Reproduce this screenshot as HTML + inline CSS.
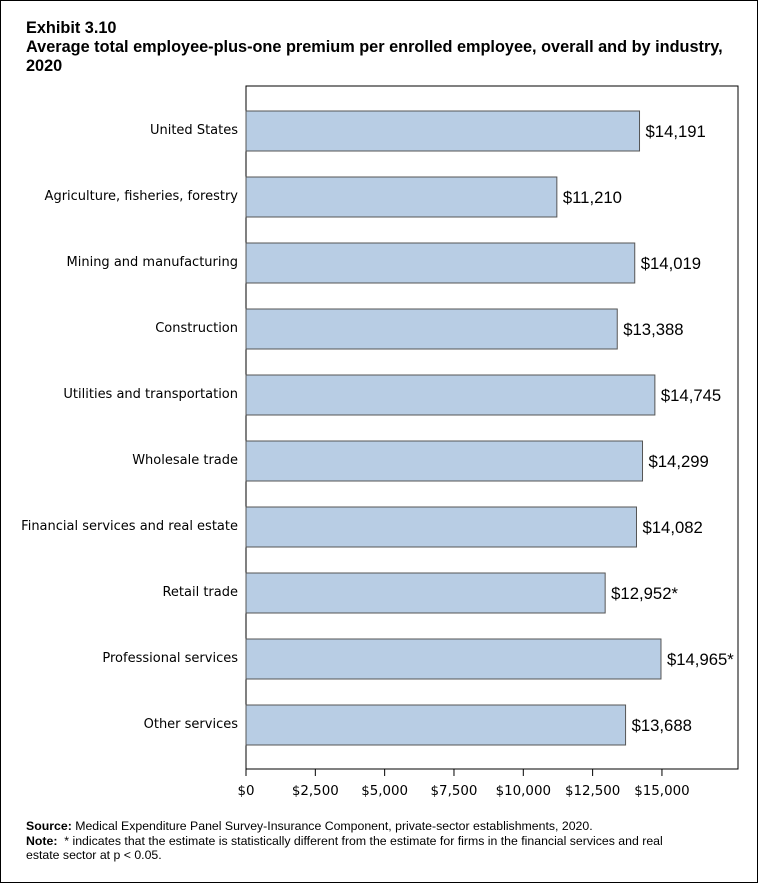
<!DOCTYPE html>
<html><head><meta charset="utf-8"><style>
body{margin:0;background:#fff;}
#wrap{position:relative;width:756px;height:881px;border:1px solid #000;background:#fff;font-family:"Liberation Sans",sans-serif;overflow:hidden;}
.t{position:absolute;left:25px;font-weight:bold;font-size:16.3px;color:#000;}
.f{position:absolute;left:25px;font-size:12.3px;color:#000;line-height:14px;}
</style></head><body>
<div id="wrap">
<div class="t" style="top:18px">Exhibit 3.10</div>
<div class="t" style="top:37px;line-height:19px;width:700px">Average total employee-plus-one premium per enrolled employee, overall and by industry, 2020</div>
<svg id="chart" width="756" height="881" style="position:absolute;left:0;top:0"></svg>
<div class="f" style="top:818px"><b>Source:</b> Medical Expenditure Panel Survey-Insurance Component, private-sector establishments, 2020.</div>
<div class="f" style="top:833px;width:670px"><b>Note:</b>&nbsp; * indicates that the estimate is statistically different from the estimate for firms in the financial services and real estate sector at p &lt; 0.05.</div>
</div>
<script>
const categories=["United States","Agriculture, fisheries, forestry","Mining and manufacturing","Construction","Utilities and transportation","Wholesale trade","Financial services and real estate","Retail trade","Professional services","Other services"];
const values=[14191,11210,14019,13388,14745,14299,14082,12952,14965,13688];
const valueLabels=["$14,191","$11,210","$14,019","$13,388","$14,745","$14,299","$14,082","$12,952*","$14,965*","$13,688"];
const ticks=[0,2500,5000,7500,10000,12500,15000];
const tickLabels=["$0","$2,500","$5,000","$7,500","$10,000","$12,500","$15,000"];
const NS="http://www.w3.org/2000/svg";
const svg=document.getElementById('chart');
const L=245,R=737,T=85,B=768;
const x=v=>L+v*0.02773;
const y=i=>130+i*66;
function mk(tag,at){const e=document.createElementNS(NS,tag);for(const k in at)e.setAttribute(k,at[k]);svg.appendChild(e);return e;}
const frame=mk('rect',{x:L,y:T,width:R-L,height:B-T,fill:'none',stroke:'#000','stroke-width':1});


categories.forEach((c,i)=>{
 const r=mk('rect',{x:L,y:y(i)-20,width:x(values[i])-L,height:40,fill:'#b8cde4',stroke:'#555','stroke-width':1});
 
 
 const lt=mk('text',{x:237,y:y(i)+3,'text-anchor':'end','font-size':13,'font-family':'DejaVu Sans, Liberation Sans, sans-serif'});
 lt.textContent=c;
 
 
 const vt=mk('text',{x:x(values[i])+6,y:y(i)+6,'font-size':16.7,'font-family':'Liberation Sans, sans-serif'});
 vt.textContent=valueLabels[i];
 
 
});
ticks.forEach((t,i)=>{
 const ln=mk('line',{x1:x(t),x2:x(t),y1:B,y2:B+7,stroke:'#000'});
 
 
 const tx=mk('text',{x:x(t),y:B+26,'text-anchor':'middle','font-size':13.4,'font-family':'DejaVu Sans, Liberation Sans, sans-serif'});
 tx.textContent=tickLabels[i];
 
 
});
</script>
</body></html>
